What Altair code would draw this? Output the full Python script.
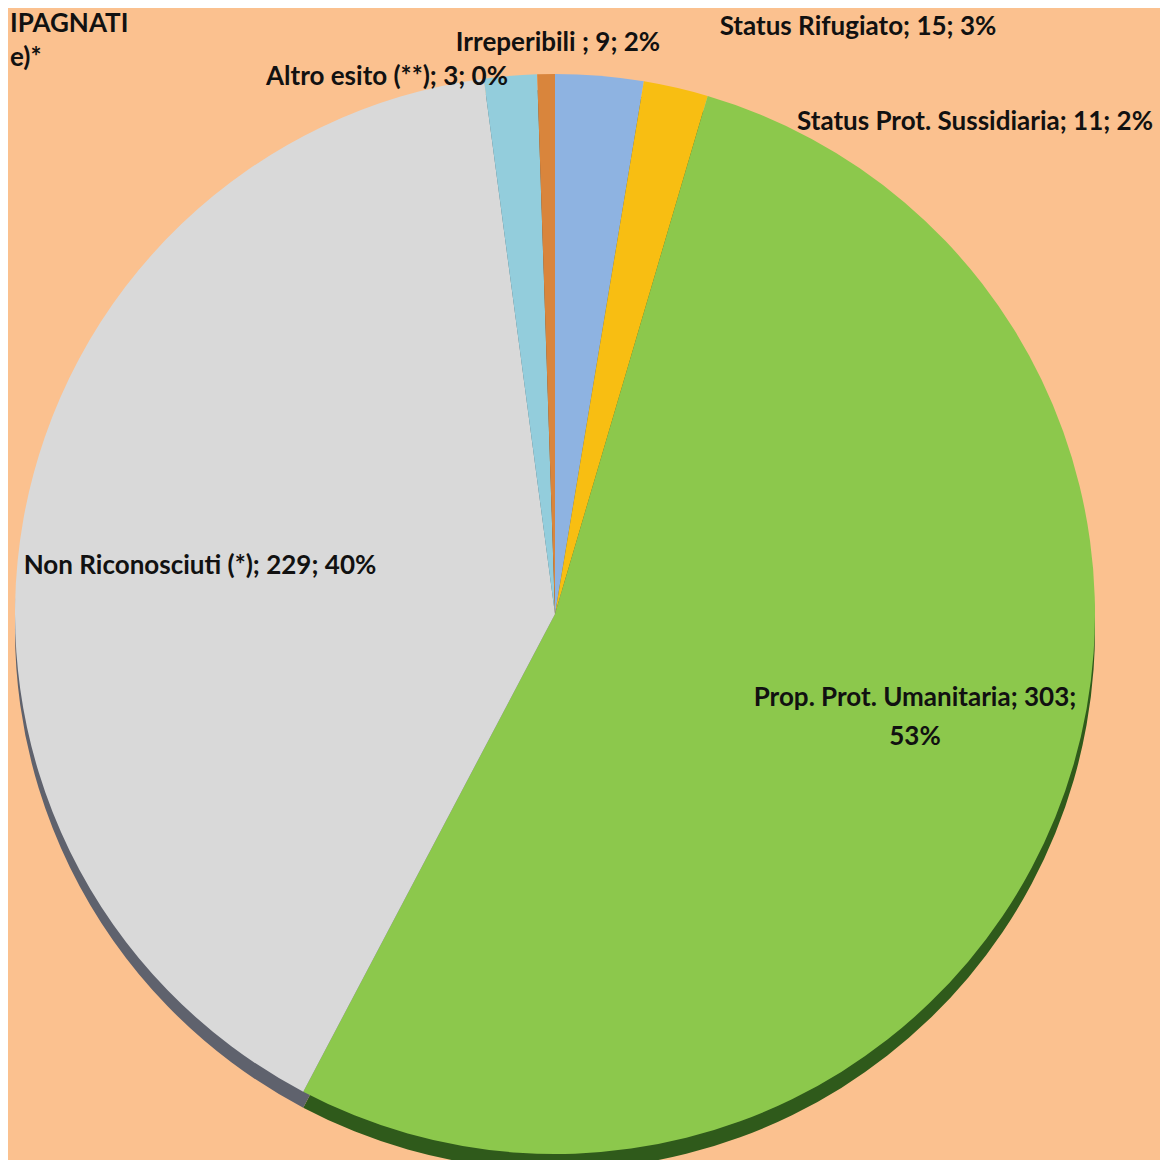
import altair as alt
import pandas as pd

# ---- data ----
categories = ["Status Rifugiato", "Status Prot. Sussidiaria", "Prop. Prot. Umanitaria",
              "Non Riconosciuti (*)", "Irreperibili ", "Altro esito (**)"]
values = [15, 11, 303, 229, 9, 3]
percents = ["3%", "2%", "53%", "40%", "2%", "0%"]
title_fragments = ["IPAGNATI", "e)*"]

# ---- style ----
colors = ["#8EB3E1", "#F8BE12", "#8CC84C", "#D9D9D9", "#93CDDC", "#D9853C"]
shadow_colors = ["#4A5F78", "#7A5E08", "#2F5A1B", "#5F626D", "#4A6A72", "#6E4420"]
BG = "#FBC18F"
CX, CY, R = 547, 606, 540
SHADOW_DY = 16
FONT = "Lato"
FS = 26

# label layout (chart pixel coordinates, text centre of first line)
label_x = [850, 967, 907, 192, 550, 379]
label_y = [19, 114, 690, 558, 35, 69]

df = pd.DataFrame({
    "category": categories,
    "value": values,
    "order": list(range(len(categories))),
    "fill": colors,
    "shadow": shadow_colors,
})

labels = []
for c, v, p in zip(categories, values, percents):
    if v == 303:
        labels.append(f"{c}; {v};\n{p}")
    else:
        labels.append(f"{c}; {v}; {p}")
lab_df = pd.DataFrame({"label": labels, "lx": label_x, "ly": label_y})

W = H = 1152

shadow = alt.Chart(df).mark_arc(radius=R).encode(
    theta=alt.Theta("value:Q", stack=True),
    order=alt.Order("order:Q"),
    color=alt.Color("shadow:N", scale=None),
    x=alt.value(CX),
    y=alt.value(CY + SHADOW_DY),
)

pie = alt.Chart(df).mark_arc(radius=R).encode(
    theta=alt.Theta("value:Q", stack=True),
    order=alt.Order("order:Q"),
    color=alt.Color("fill:N", scale=None),
    x=alt.value(CX),
    y=alt.value(CY),
)

text = alt.Chart(lab_df).mark_text(
    font=FONT, fontSize=FS, fontWeight="bold", color="#111111",
    align="center", baseline="middle", lineBreak="\n", lineHeight=39,
).encode(
    x=alt.X("lx:Q", scale=None, axis=None),
    y=alt.Y("ly:Q", scale=None, axis=None),
    text="label:N",
)

title_df = pd.DataFrame({"t": title_fragments, "tx": [2, 2], "ty": [3, 37]})
title_txt = alt.Chart(title_df).mark_text(
    font=FONT, fontSize=FS, fontWeight="bold", color="#111111",
    align="left", baseline="top",
).encode(
    x=alt.X("tx:Q", scale=None, axis=None),
    y=alt.Y("ty:Q", scale=None, axis=None),
    text="t:N",
)

chart = alt.layer(shadow, pie, text, title_txt).properties(
    width=W, height=H, padding=0, autosize="none",
).configure(background=BG).configure_view(strokeWidth=0)

chart.save("out.html", embed_options={"renderer": "svg", "actions": False})
